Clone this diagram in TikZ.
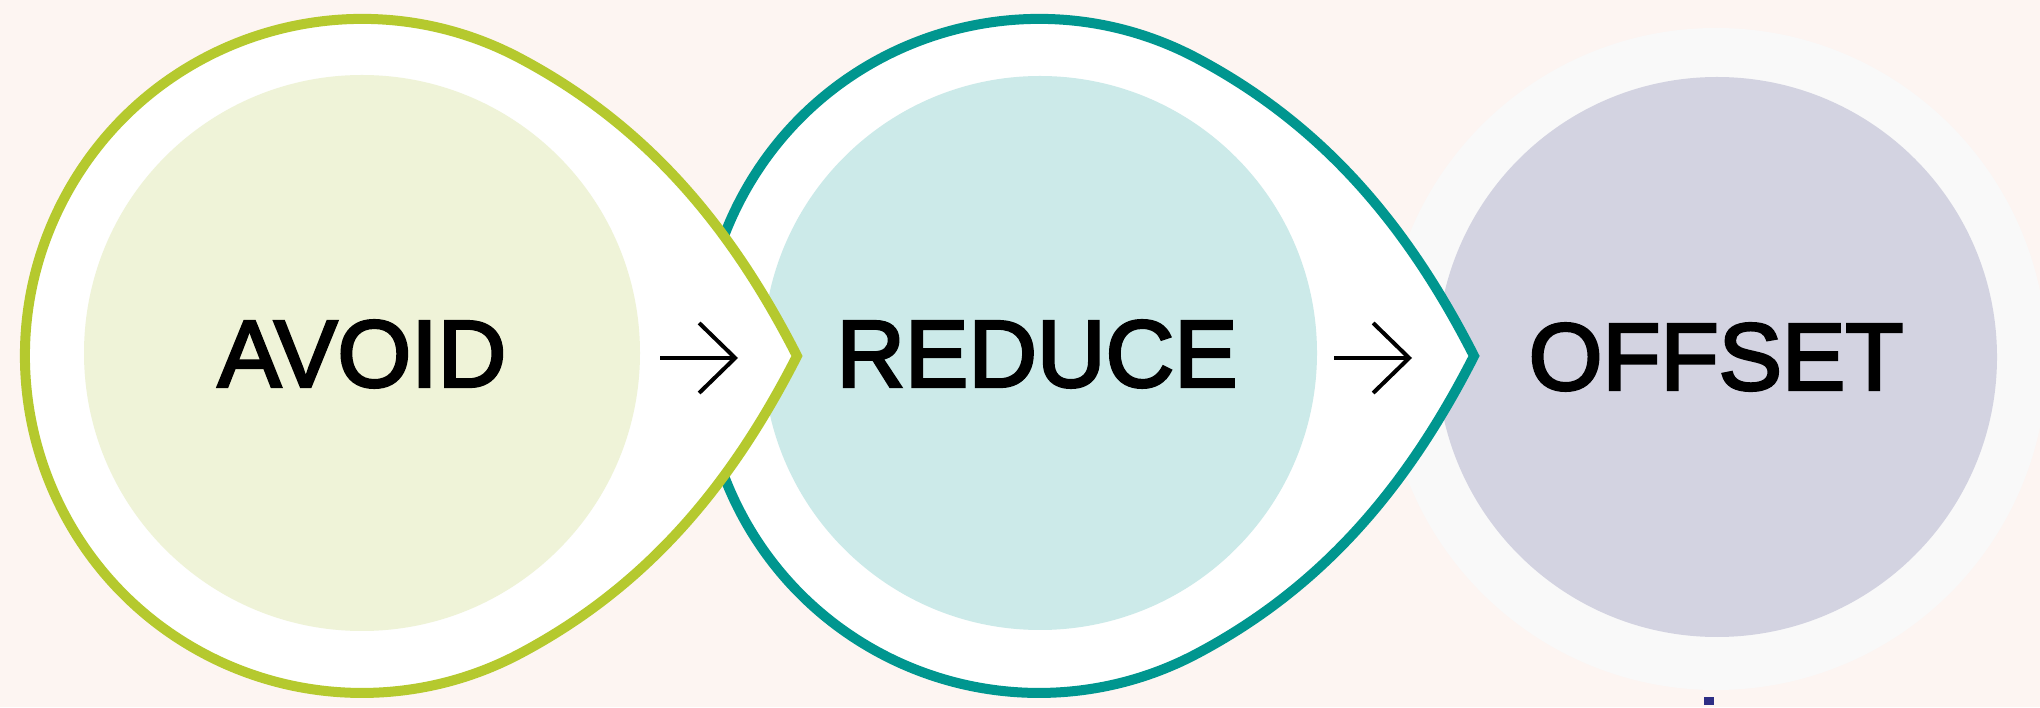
\documentclass[tikz,border=0pt]{standalone}
\usepackage{fontspec}
\setmainfont{Liberation Sans}
\newfontfamily\wordfont[FakeBold=3]{Liberation Sans}
\usetikzlibrary{arrows.meta}
\definecolor{bgpink}{RGB}{253,245,242}
\definecolor{avgreen}{RGB}{181,201,46}
\definecolor{avlight}{RGB}{239,243,216}
\definecolor{reteal}{RGB}{0,150,143}
\definecolor{relight}{RGB}{204,234,233}
\definecolor{oflav}{RGB}{211,211,225}
\definecolor{ofgray}{RGB}{249,249,249}
\definecolor{navy}{RGB}{46,46,133}
\tikzset{
  drop/.pic={\path[pic actions] (435,0) .. controls (366.9,133.7) and (281.8,231.9) .. (158.2,297.6)
     arc[start angle=62,end angle=298,radius=337]
     .. controls (281.8,-231.9) and (366.9,-133.7) .. (435,0) -- cycle;},
  dropline/.style={fill=white, line width=10pt, line join=miter},
  disc/.style={circle, inner sep=0pt, draw=none},
  wordlabel/.style={inner sep=0pt, font=\wordfont\fontsize{95}{100}\selectfont, text=black},
  flow/.style={line width=4pt, -{Straight Barb[length=36pt,width=70pt,line width=4pt]}}
}
\begin{document}
\begin{tikzpicture}[x=1pt,y=1pt]
\useasboundingbox (0,0) rectangle (2040,707);
\fill[bgpink] (0,0) rectangle (2040,707);
% OFFSET
\node[disc, fill=ofgray, minimum size=662pt] (offsetring) at (1716,348) {};
\node[disc, fill=oflav, minimum size=560pt] (offsetdisc) at (1717,350) {};
% REDUCE
\pic[draw=reteal, dropline] at (1039,351) {drop};
\node[disc, fill=relight, minimum size=554pt] (reducedisc) at (1040,354) {};
% AVOID
\pic[draw=avgreen, dropline] at (362,351) {drop};
\node[disc, fill=avlight, minimum size=556pt] (avoiddisc) at (362,354) {};
% labels
\node[wordlabel] (avoid) at (362,353) {AVOID};
\node[wordlabel] (reduce) at (1037,353) {REDUCE};
\node[wordlabel] (offset) at (1716,350) {OFFSET};
% arrows
\coordinate (a1) at (660,349);
\coordinate (a2) at (738,349);
\coordinate (b1) at (1334,349);
\coordinate (b2) at (1412,349);
\draw[flow] (a1) -- (a2);
\draw[flow] (b1) -- (b2);
% small mark
\fill[navy] (1704,2) rectangle (1714,10);
\end{tikzpicture}
\end{document}
